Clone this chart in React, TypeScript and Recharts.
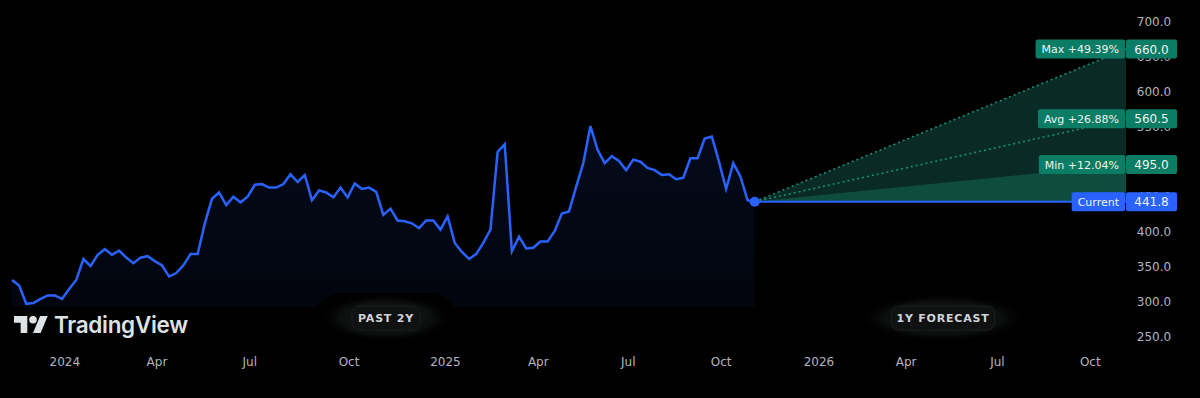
import { Area, ComposedChart, Line, ReferenceDot, XAxis, YAxis } from 'recharts';

// weekly closes, last two years
const pastPrices = [
  330, 322, 296, 297, 303, 308, 308, 303, 317, 330,
  360, 350, 366, 374, 366, 372, 362, 354, 362, 364,
  357, 351, 335, 340, 351, 367, 367, 411, 446, 455,
  437, 449, 441, 449, 466, 467, 462, 462, 467, 481,
  470, 480, 444, 458, 455, 448, 462, 448, 468, 460,
  462, 456,
  423, 432, 415, 414, 411, 404, 415, 415, 402, 421,
  383, 370, 360, 367, 383, 402, 513, 524, 371, 392,
  375, 376, 385, 385, 400, 425, 428, 463, 497, 550,
  516, 497, 507, 500, 487, 502, 499, 490, 487, 480,
  481, 474, 476, 504, 504, 532, 535, 499, 460, 497,
  478, 444, 441.8,
];
const currentPrice = 441.8;
const forecastNames = ['Max', 'Avg', 'Min'];
const forecastTargets = [660.0, 560.5, 495.0];
const forecastChanges = ['+49.39%', '+26.88%', '+12.04%'];
const forecastWeeks = 52;

const xTickWeeks = [7.4, 20.3, 33.3, 47.2, 60.7, 73.7, 86.3, 99.3, 113, 125.2, 138, 151];
const xTickLabels = ['2024', 'Apr', 'Jul', 'Oct', '2025', 'Apr', 'Jul', 'Oct', '2026', 'Apr', 'Jul', 'Oct'];
const yTicks = [250, 300, 350, 400, 450, 500, 550, 600, 650, 700];

const pastData = pastPrices.map((price, week) => ({ week, price }));
const lastWeek = pastPrices.length - 1;
const endWeek = lastWeek + forecastWeeks;
const pathTo = (target: number) => [
  { week: lastWeek, value: currentPrice },
  { week: endWeek, value: target },
];

const AXIS_FONT = '"DejaVu Sans", sans-serif';
const GREEN = '#0c7d65';
const BLUE = '#2962ff';

let ctx: CanvasRenderingContext2D | null = null;
function textWidth(text: string, font: string) {
  if (!ctx) ctx = document.createElement('canvas').getContext('2d');
  if (!ctx) return text.length * 7;
  ctx.font = font;
  return ctx.measureText(text).width;
}

function XTick({ x, y, payload }: any) {
  const i = xTickWeeks.indexOf(payload.value);
  return (
    <text x={x} y={y + 16} textAnchor="middle" fill="#b2b5be" fontSize={12} fontFamily={AXIS_FONT}>
      {xTickLabels[i]}
    </text>
  );
}

// y labels sit as reference-dot labels so the price tags can cover them
function YLabel({ viewBox, value }: any) {
  const cx = viewBox.x + viewBox.width / 2;
  const cy = viewBox.y + viewBox.height / 2;
  return (
    <text x={cx + 28} y={cy + 4.5} textAnchor="middle" fill="#b2b5be" fontSize={12} fontFamily={AXIS_FONT}>
      {value.toFixed(1)}
    </text>
  );
}

function PriceTag({ viewBox, name, value, color }: any) {
  const cx = viewBox.x + viewBox.width / 2;
  const cy = viewBox.y + viewBox.height / 2;
  const font = `11px ${AXIS_FONT}`;
  const w = textWidth(name, font) + 12;
  return (
    <g>
      <rect x={cx - 1 - w} y={cy - 9.5} width={w} height={19} rx={2} fill={color} />
      <rect x={cx} y={cy - 9.5} width={51} height={19} rx={2} fill={color} />
      <text x={cx - 1 - w / 2} y={cy + 4} textAnchor="middle" fill="#eef3f1" fontSize={11} fontFamily={AXIS_FONT}>
        {name}
      </text>
      <text x={cx + 25.5} y={cy + 4.5} textAnchor="middle" fill="#eef3f1" fontSize={12} fontFamily={AXIS_FONT}>
        {value.toFixed(1)}
      </text>
    </g>
  );
}

function Badge({ cx, text, w }: { cx: number; text: string; w: number }) {
  return (
    <g>
      <rect x={cx - w / 2 - 38} y={293} width={w + 76} height={54} rx={27} fill="#000" />
      <ellipse cx={cx} cy={318} rx={w / 2 + 32} ry={24} fill="url(#badgeGlow)" />
      <rect x={cx - w / 2} y={306} width={w} height={24} rx={7} fill="#101212" stroke="#2a2d2c" strokeDasharray="1 1" />
      <text x={cx} y={322} textAnchor="middle" fill="#d1d4dc" fontSize={11} fontWeight="bold" letterSpacing={0.8} fontFamily={AXIS_FONT}>
        {text}
      </text>
    </g>
  );
}

export default function App() {
  return (
    <div style={{ position: 'absolute', left: 0, top: 0, width: 1200, height: 398, background: '#000' }}>
      <ComposedChart width={1200} height={398} data={pastData} margin={{ top: 0, right: 0, left: 12, bottom: 0 }}>
        <defs>
          <linearGradient id="pastFill" x1="0" y1="0" x2="0" y2="1">
            <stop offset="0%" stopColor={BLUE} stopOpacity={0.11} />
            <stop offset="100%" stopColor={BLUE} stopOpacity={0.05} />
          </linearGradient>
        </defs>
        <XAxis
          dataKey="week"
          type="number"
          domain={[0, endWeek]}
          ticks={xTickWeeks}
          interval={0}
          axisLine={false}
          tickLine={false}
          tickSize={0}
          tickMargin={0}
          height={48}
          tick={<XTick />}
        />
        <YAxis
          orientation="right"
          type="number"
          domain={[230, 730]}
          ticks={yTicks}
          axisLine={false}
          tickLine={false}
          tick={false}
          width={74}
        />
        <Area
          data={pathTo(forecastTargets[0])}
          dataKey="value"
          type="linear"
          baseValue={currentPrice}
          stroke="none"
          fill="#0a2b25"
          fillOpacity={1}
          isAnimationActive={false}
        />
        <Area
          data={pathTo(forecastTargets[2])}
          dataKey="value"
          type="linear"
          baseValue={currentPrice}
          stroke="none"
          fill="#0f4c40"
          fillOpacity={1}
          isAnimationActive={false}
        />
        {forecastTargets.slice(0, 2).map((t, i) => (
          <Line
            key={forecastNames[i]}
            data={pathTo(t)}
            dataKey="value"
            type="linear"
            stroke="#14907a"
            strokeWidth={1.6}
            strokeDasharray="2 3"
            dot={false}
            isAnimationActive={false}
          />
        ))}
        <Line
          data={pathTo(currentPrice)}
          dataKey="value"
          type="linear"
          stroke={BLUE}
          strokeWidth={2}
          dot={false}
          isAnimationActive={false}
        />
        <Area
          dataKey="price"
          type="linear"
          baseValue={291}
          stroke={BLUE}
          strokeWidth={2.5}
          fill="url(#pastFill)"
          fillOpacity={1}
          isAnimationActive={false}
        />
        <ReferenceDot x={lastWeek} y={currentPrice} r={5} fill={BLUE} stroke="none" />
        {yTicks.map((v) => (
          <ReferenceDot key={v} x={endWeek} y={v} r={1} fill="none" stroke="none" label={<YLabel value={v} />} />
        ))}
        {forecastTargets.map((t, i) => (
          <ReferenceDot
            key={forecastNames[i]}
            x={endWeek}
            y={t}
            r={1}
            fill="none"
            stroke="none"
            label={<PriceTag name={`${forecastNames[i]} ${forecastChanges[i]}`} value={t} color={GREEN} />}
          />
        ))}
        <ReferenceDot
          x={endWeek}
          y={currentPrice}
          r={1}
          fill="none"
          stroke="none"
          label={<PriceTag name="Current" value={currentPrice} color={BLUE} />}
        />
      </ComposedChart>
      <svg width={1200} height={398} style={{ position: 'absolute', left: 0, top: 0, pointerEvents: 'none' }}>
        <defs>
          <radialGradient id="badgeGlow">
            <stop offset="0%" stopColor="#161a19" />
            <stop offset="70%" stopColor="#0c0f0e" />
            <stop offset="100%" stopColor="#000" stopOpacity={0} />
          </radialGradient>
        </defs>
        <Badge cx={386} text="PAST 2Y" w={68} />
        <Badge cx={943} text="1Y FORECAST" w={103} />
        <g transform="translate(14 312.2) scale(0.95)" fill="#dfe2e5">
          <path d="M14 22H7V11H0V4h14v18zM28 22h-8l7.5-18h8L28 22z" />
          <circle cx={20} cy={8} r={4} />
        </g>
        <text x={54} y={333} fill="#dfe2e5" fontSize={22.5} fontWeight={600} fontFamily="Inter, sans-serif" letterSpacing={-0.3}>
          TradingView
        </text>
      </svg>
    </div>
  );
}
